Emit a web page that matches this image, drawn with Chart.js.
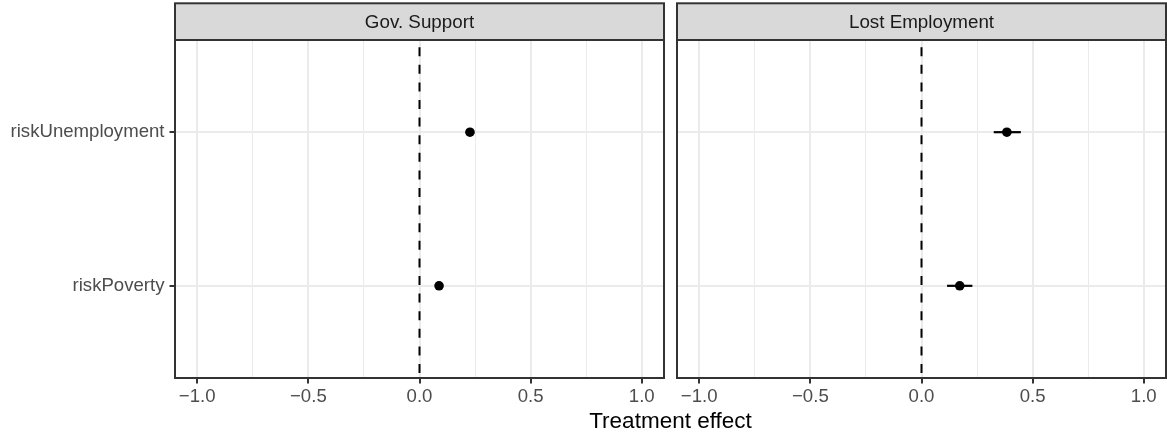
<!DOCTYPE html>
<html>
<head>
<meta charset="utf-8">
<script src="https://cdn.jsdelivr.net/npm/chart.js"></script>
<style>
  html, body { margin: 0; padding: 0; background: #ffffff; }
  body { width: 1167px; height: 436px; position: relative; overflow: hidden; font-family: "Liberation Sans", Arial, sans-serif; }
  .wrap { position: absolute; top: 0; }
  #axisTitle { position: absolute; left: 175px; width: 991px; top: 409.5px; text-align: center; font-size: 22.5px; line-height: 22px; color: #000000; white-space: nowrap; }
</style>
</head>
<body>
<div class="wrap" style="left:0px;width:670px;height:436px;"><canvas id="c1" width="670" height="436"></canvas></div>
<div class="wrap" style="left:670px;width:497px;height:436px;"><canvas id="c2" width="497" height="436"></canvas></div>
<div id="axisTitle"></div>
<script>
// ---- data ----
const categories = ['riskPoverty', 'riskUnemployment'];
const panels = ['Gov. Support', 'Lost Employment'];
const govEstimate = [0.088, 0.227];
const govLower = [0.079, 0.217];
const govUpper = [0.097, 0.237];
const lostEstimate = [0.172, 0.384];
const lostLower = [0.115, 0.325];
const lostUpper = [0.229, 0.447];
const xTickValues = [-1, -0.5, 0, 0.5, 1];
const xTickLabels = ['\u22121.0', '\u22120.5', '0.0', '0.5', '1.0'];
const xMinorValues = [-0.75, -0.25, 0.25, 0.75];
const xAxisTitle = 'Treatment effect';
const referenceLine = 0;

document.getElementById('axisTitle').textContent = xAxisTitle;

Chart.defaults.font.family = '"Liberation Sans", Arial, sans-serif';
Chart.defaults.devicePixelRatio = 1;

const panelPlugin = {
  id: 'panelPlugin',
  beforeDatasetsDraw(chart, args, opts) {
    const ctx = chart.ctx, a = chart.chartArea;
    const xs = chart.scales.x, ys = chart.scales.y;
    ctx.save();
    // dashed reference line
    const px = xs.getPixelForValue(referenceLine);
    ctx.beginPath();
    ctx.setLineDash([9, 8.6]);
    ctx.lineDashOffset = 10.4;
    ctx.strokeStyle = '#000000';
    ctx.lineWidth = 2;
    ctx.moveTo(px, a.top);
    ctx.lineTo(px, a.bottom);
    ctx.stroke();
    ctx.setLineDash([]);
    // error bars
    const lo = opts.lower, hi = opts.upper;
    ctx.lineWidth = 2.2;
    for (let i = 0; i < lo.length; i++) {
      const py = ys.getPixelForValue(i + 1);
      ctx.beginPath();
      ctx.moveTo(xs.getPixelForValue(lo[i]), py);
      ctx.lineTo(xs.getPixelForValue(hi[i]), py);
      ctx.stroke();
    }
    ctx.restore();
  },
  afterDraw(chart, args, opts) {
    const ctx = chart.ctx, a = chart.chartArea;
    ctx.save();
    // strip
    const stripTop = 3.3;
    ctx.fillStyle = '#D9D9D9';
    ctx.fillRect(a.left, stripTop, a.right - a.left, a.top - stripTop);
    ctx.strokeStyle = '#333333';
    ctx.lineWidth = 2;
    ctx.strokeRect(a.left, stripTop, a.right - a.left, a.top - stripTop);
    ctx.fillStyle = '#1A1A1A';
    ctx.font = '18.8px "Liberation Sans", Arial, sans-serif';
    ctx.textAlign = 'center';
    ctx.textBaseline = 'alphabetic';
    ctx.fillText(opts.title, (a.left + a.right) / 2, 28.3);
    // panel border
    ctx.strokeRect(a.left, a.top, a.right - a.left, a.bottom - a.top);
    ctx.restore();
  }
};

function isMajor(v) {
  return xTickValues.some(t => Math.abs(t - v) < 1e-9);
}

function makeChart(id, title, est, lo, hi, showY, padRight, yWidth) {
  const points = est.map((v, i) => ({ x: v, y: i + 1 }));
  return new Chart(document.getElementById(id), {
    type: 'scatter',
    data: {
      datasets: [{
        data: points,
        pointRadius: 4.8,
        pointHoverRadius: 4.8,
        backgroundColor: '#000000',
        borderWidth: 0
      }]
    },
    options: {
      responsive: false,
      animation: false,
      events: [],
      layout: { autoPadding: false, padding: { top: 40, bottom: 0, left: 0, right: padRight } },
      plugins: {
        legend: { display: false },
        tooltip: { enabled: false },
        panelPlugin: { title: title, lower: lo, upper: hi }
      },
      scales: {
        x: {
          type: 'linear',
          min: -1.1,
          max: 1.1,
          afterBuildTicks(scale) {
            const vals = xTickValues.concat(xMinorValues).sort((a, b) => a - b);
            scale.ticks = vals.map(v => ({ value: v }));
          },
          afterFit(scale) { scale.height = 58; },
          border: { display: false },
          grid: {
            color: '#EBEBEB',
            lineWidth: ctx => (ctx.tick && isMajor(ctx.tick.value)) ? 2 : 1,
            drawTicks: true,
            tickLength: 5.5,
            tickWidth: 2,
            tickColor: ctx => (ctx.tick && isMajor(ctx.tick.value)) ? '#333333' : 'rgba(0,0,0,0)'
          },
          ticks: {
            autoSkip: false,
            maxRotation: 0,
            padding: 2.5,
            color: '#4D4D4D',
            font: { size: 18.6 },
            callback(value) {
              const idx = xTickValues.findIndex(t => Math.abs(t - value) < 1e-9);
              return idx >= 0 ? xTickLabels[idx] : '';
            }
          }
        },
        y: {
          type: 'linear',
          min: 0.4,
          max: 2.6,
          afterBuildTicks(scale) {
            scale.ticks = categories.map((c, i) => ({ value: i + 1 }));
          },
          afterFit(scale) { scale.width = yWidth; },
          border: { display: false },
          grid: {
            color: '#EBEBEB',
            lineWidth: 2,
            drawTicks: showY,
            tickLength: 5.5,
            tickWidth: 2,
            tickColor: '#333333'
          },
          ticks: {
            display: showY,
            autoSkip: false,
            padding: 5,
            color: '#4D4D4D',
            font: { size: 18.6 },
            callback(value) { return categories[Math.round(value) - 1]; }
          }
        }
      }
    },
    plugins: [panelPlugin]
  });
}

makeChart('c1', panels[0], govEstimate, govLower, govUpper, true, 6, 175);
makeChart('c2', panels[1], lostEstimate, lostLower, lostUpper, false, 1, 7);
</script>
</body>
</html>
